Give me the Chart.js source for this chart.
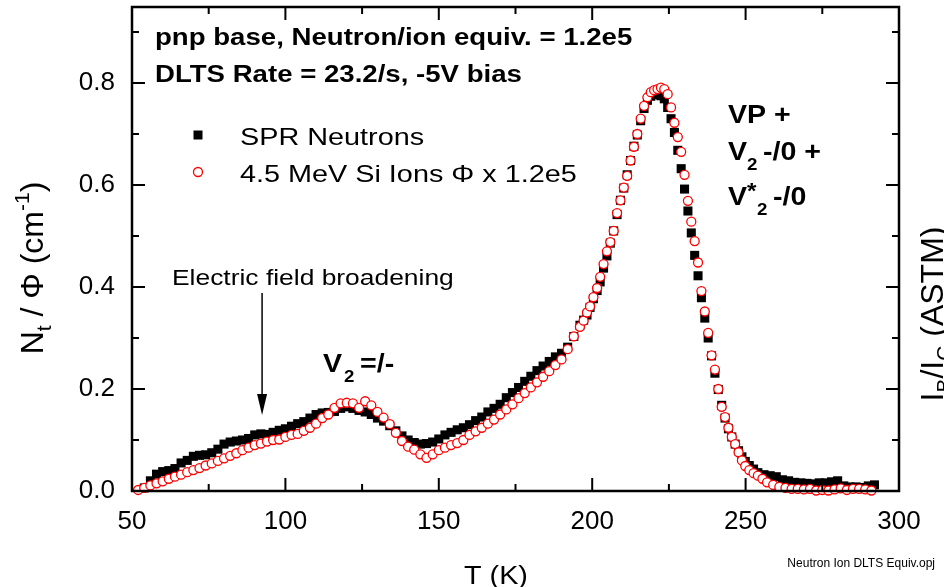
<!DOCTYPE html>
<html>
<head>
<meta charset="utf-8">
<style>
  html, body { margin: 0; padding: 0; background: #fff; }
  canvas { display: block; }
</style>
<script src="https://cdn.jsdelivr.net/npm/chart.js@4.4.1/dist/chart.umd.min.js"></script>
</head>
<body>
<canvas id="dltsChart" width="944" height="587"></canvas>
<script>
// axis ticks
const tempTicks = [50, 100, 150, 200, 250, 300];
const tempMinor = [75, 125, 175, 225, 275];
const ntTicks = [0, 0.2, 0.4, 0.6, 0.8];
const ntMinor = [0.1, 0.3, 0.5, 0.7, 0.9];

// SPR neutrons (black squares)
const neutronT = [54, 56, 58, 60, 62, 64, 66, 68, 70, 72, 74, 76, 78, 80, 82, 84, 86, 88, 90, 92, 94, 96, 98,
  100, 102, 104, 106, 108, 110, 112, 114, 116, 118, 120, 122, 124, 126, 128, 130, 132, 134, 136, 138, 140,
  142, 144, 146, 148, 150, 152, 154, 156, 158, 160, 162, 164, 166, 168, 170, 172, 174, 176, 178, 180, 182,
  184, 186, 188, 190, 192, 194, 196,
  197.2, 198.3, 199.3, 200.4, 201.6, 202.6, 203.7, 204.8, 205.9, 207, 208.1, 209.2, 210.3, 211.4, 212.5,
  213.6, 214.7, 215.8, 216.9, 218, 219.1, 220.2, 221.3, 222.4, 223.5, 224.6, 225.7, 226.8, 227.9, 229,
  230.1, 231.2, 232.3, 233.4, 234.5, 235.6, 236.7, 237.8, 238.9, 240, 241.1, 242.2, 243.3, 244.4, 245.5,
  246.6, 247.7, 248.8, 249.9, 251.2, 252.6, 254,
  256, 258, 260, 262, 264, 266, 268, 270, 272, 274, 276, 278, 280, 282, 284, 286, 288, 290, 292];
const neutronN = [0.006, 0.020, 0.033, 0.038, 0.040, 0.044, 0.055, 0.060, 0.068, 0.070, 0.071, 0.075, 0.082,
  0.092, 0.096, 0.098, 0.100, 0.103, 0.110, 0.112, 0.111, 0.115, 0.119,
  0.122, 0.127, 0.132, 0.136, 0.143, 0.150, 0.153, 0.154, 0.156, 0.162, 0.165, 0.162, 0.158, 0.155, 0.150,
  0.143, 0.137, 0.128, 0.118, 0.108, 0.100,
  0.095, 0.092, 0.093, 0.096, 0.102, 0.110, 0.115, 0.120, 0.124, 0.130, 0.138, 0.145, 0.155, 0.162, 0.170,
  0.183, 0.193, 0.203, 0.215, 0.225, 0.236,
  0.245, 0.254, 0.263, 0.270, 0.282, 0.303, 0.325,
  0.335, 0.345, 0.360, 0.377, 0.393, 0.410, 0.437, 0.461, 0.486, 0.510, 0.542, 0.570, 0.594, 0.620, 0.648,
  0.676, 0.698, 0.726, 0.750, 0.766, 0.774, 0.778, 0.777, 0.775, 0.769, 0.752, 0.730, 0.703, 0.668, 0.632,
  0.592, 0.549, 0.506, 0.462, 0.422, 0.379, 0.339, 0.300, 0.265, 0.231, 0.199, 0.168, 0.143, 0.122, 0.106,
  0.092, 0.079, 0.067, 0.058, 0.050, 0.043, 0.036,
  0.032, 0.030, 0.028, 0.022, 0.020, 0.017, 0.016, 0.015, 0.014, 0.016, 0.016, 0.018, 0.020, 0.010, 0.008,
  0.008, 0.007, 0.010, 0.012];

// 4.5 MeV Si ions scaled by 1.2e5 (red open circles)
const ionT = [52, 54, 56, 58, 60, 62, 64, 66, 68, 70, 72, 74, 76, 78, 80, 82, 84, 86, 88, 90, 92, 94, 96, 98,
  100, 102, 104, 106, 108, 110, 112, 114, 116, 118, 120, 122, 124, 126, 128, 130, 132, 134, 136, 138, 140,
  142, 144, 146, 148, 150, 152, 154, 156, 158, 160, 162, 164, 166, 168, 170, 172, 174, 176, 178, 180, 182,
  184, 186, 188, 190, 192, 194, 196,
  197.2, 198.3, 199.3, 200.4, 201.6, 202.6, 203.7, 204.8, 205.9, 207, 208.1, 209.2, 210.3, 211.4, 212.5,
  213.6, 214.7, 215.8, 216.9, 218, 219.1, 220.2, 221.3, 222.4, 223.5, 224.6, 225.7, 226.8, 227.9, 229,
  230.1, 231.2, 232.3, 233.4, 234.5, 235.6, 236.7, 237.8, 238.9, 240, 241.1, 242.2, 243.3, 244.4, 245.5,
  246.6, 247.7, 248.8, 249.9, 251.2, 252.6, 254, 255.5, 257,
  259, 261, 263, 265, 267, 269, 271, 273, 275, 277, 279, 281, 283, 285, 287, 289, 291];
const ionN = [0.002, 0.006, 0.011, 0.015, 0.019, 0.024, 0.028, 0.032, 0.037, 0.041, 0.045, 0.050, 0.054,
  0.059, 0.064, 0.069, 0.074, 0.080, 0.085, 0.090, 0.093, 0.097, 0.100, 0.101,
  0.106, 0.110, 0.112, 0.118, 0.124, 0.132, 0.143, 0.150, 0.163, 0.172, 0.173, 0.172, 0.163, 0.176, 0.168,
  0.155, 0.144, 0.131, 0.114, 0.098, 0.087,
  0.081, 0.072, 0.065, 0.072, 0.080, 0.085, 0.090, 0.094, 0.100, 0.110, 0.117, 0.124, 0.132, 0.140, 0.150,
  0.160, 0.170, 0.182, 0.192, 0.203, 0.213,
  0.224, 0.235, 0.247, 0.258, 0.278, 0.303, 0.322,
  0.334, 0.350, 0.362, 0.380, 0.398, 0.420, 0.445, 0.470, 0.488, 0.510, 0.545, 0.570, 0.595, 0.618, 0.648,
  0.675, 0.700, 0.730, 0.755, 0.772, 0.782, 0.786, 0.788, 0.791, 0.788, 0.778, 0.752, 0.722, 0.694, 0.665,
  0.620, 0.569, 0.528, 0.490, 0.448, 0.392, 0.352, 0.310, 0.266, 0.238, 0.200, 0.165, 0.145, 0.124, 0.106,
  0.092, 0.076, 0.060, 0.049, 0.041, 0.035, 0.030, 0.024, 0.017,
  0.012, 0.008, 0.006, 0.004, 0.004, 0.003, 0.004, 0.001, 0.002, 0.001, 0.003, 0.005, 0.002, 0.004, 0.004,
  0.003, 0.001];

const FONT = '"Liberation Sans", Arial, Helvetica, sans-serif';

function toPoints(xs, ys) {
  return xs.map((t, i) => ({ x: t, y: ys[i] }));
}

// text with a slight horizontal stretch, returns drawn width
function put(ctx, str, x, y, size, weight, sx) {
  sx = sx || 1.15;
  ctx.save();
  ctx.translate(x, y);
  ctx.scale(sx, 1);
  ctx.font = `${weight} ${size}px ${FONT}`;
  ctx.fillText(str, 0, 0);
  const w = ctx.measureText(str).width * sx;
  ctx.restore();
  return w;
}

// rotated axis title made of pieces [text, size, baseline shift]
function rotatedTitle(ctx, parts, x, y) {
  ctx.save();
  ctx.translate(x, y);
  ctx.rotate(-Math.PI / 2);
  let w = 0;
  parts.forEach(p => { ctx.font = `${p[1]}px ${FONT}`; w += ctx.measureText(p[0]).width; });
  let cx = -w / 2;
  parts.forEach(p => {
    ctx.font = `${p[1]}px ${FONT}`;
    ctx.fillText(p[0], cx, p[2]);
    cx += ctx.measureText(p[0]).width;
  });
  ctx.restore();
}

// frame and inward ticks on all four sides
const framePlugin = {
  id: "frame",
  afterDatasetsDraw(chart) {
    const { ctx, chartArea: a, scales } = chart;
    const sx = scales.x, sy = scales.y;
    ctx.save();
    ctx.strokeStyle = "#000";
    ctx.lineWidth = 2;
    ctx.beginPath();
    const tickX = (vals, len) => {
      vals.forEach(v => {
        const px = sx.getPixelForValue(v);
        ctx.moveTo(px, a.bottom); ctx.lineTo(px, a.bottom - len);
        ctx.moveTo(px, a.top); ctx.lineTo(px, a.top + len);
      });
    };
    const tickY = (vals, len) => {
      vals.forEach(v => {
        const py = sy.getPixelForValue(v);
        ctx.moveTo(a.left, py); ctx.lineTo(a.left + len, py);
        ctx.moveTo(a.right, py); ctx.lineTo(a.right - len, py);
      });
    };
    tickX(tempTicks, 13);
    tickX(tempMinor, 7);
    tickY(ntTicks, 13);
    tickY(ntMinor, 7);
    ctx.stroke();
    ctx.lineWidth = 2.5;
    ctx.strokeRect(a.left, a.top, a.right - a.left, a.bottom - a.top);
    ctx.restore();
  },
};

// labels, legend, annotations
const textPlugin = {
  id: "texts",
  afterDraw(chart) {
    const { ctx, scales } = chart;
    ctx.save();
    ctx.fillStyle = "#000";
    ctx.textBaseline = "alphabetic";

    put(ctx, "pnp base, Neutron/ion equiv. = 1.2e5", 155, 45, 23, "bold", 1.2);
    put(ctx, "DLTS Rate = 23.2/s, -5V bias", 155, 82, 23, "bold", 1.2);

    // legend
    ctx.fillRect(193.5, 130.5, 9, 9);
    ctx.beginPath();
    ctx.arc(198, 172, 4.5, 0, Math.PI * 2);
    ctx.fillStyle = "#fff";
    ctx.fill();
    ctx.strokeStyle = "#ff0000";
    ctx.lineWidth = 1.3;
    ctx.stroke();
    ctx.fillStyle = "#000";
    put(ctx, "SPR Neutrons", 240, 145, 24, "normal", 1.2);
    put(ctx, "4.5 MeV Si Ions \u03A6 x 1.2e5", 240, 182, 24, "normal", 1.2);

    // electric field arrow
    put(ctx, "Electric field broadening", 172, 285, 22, "normal", 1.2);
    const ax = scales.x.getPixelForValue(92.4);
    const tip = scales.y.getPixelForValue(0.149);
    ctx.strokeStyle = "#000";
    ctx.lineWidth = 1.5;
    ctx.beginPath();
    ctx.moveTo(ax, 293);
    ctx.lineTo(ax, tip - 18);
    ctx.stroke();
    ctx.beginPath();
    ctx.moveTo(ax - 5, tip - 21);
    ctx.lineTo(ax + 5, tip - 21);
    ctx.lineTo(ax, tip);
    ctx.closePath();
    ctx.fill();

    // peak labels
    put(ctx, "V", 323, 372, 26, "bold", 1.1);
    put(ctx, "2", 344, 382, 17, "bold", 1.1);
    put(ctx, "=/-", 360, 372, 26, "bold", 1.1);

    put(ctx, "VP +", 728, 123, 26, "bold", 1.1);
    put(ctx, "V", 728, 160, 26, "bold", 1.1);
    put(ctx, "2", 747, 170, 17, "bold", 1.1);
    put(ctx, "-/0 +", 763, 160, 26, "bold", 1.1);
    put(ctx, "V", 728, 205, 26, "bold", 1.1);
    put(ctx, "*", 747, 198, 22, "bold", 1.1);
    put(ctx, "2", 757, 215, 17, "bold", 1.1);
    put(ctx, "-/0", 773, 205, 26, "bold", 1.1);

    // x title and file name
    ctx.textAlign = "center";
    put(ctx, "T (K)", 496, 584, 25, "normal", 1.15);
    ctx.textAlign = "right";
    put(ctx, "Neutron Ion DLTS Equiv.opj", 935, 567, 12, "normal", 1.0);
    ctx.textAlign = "left";

    // axis titles
    rotatedTitle(ctx, [["N", 32, 0], ["t", 21, 8], [" / \u03A6 (cm", 32, 0], ["-1", 21, -14], [")", 32, 0]], 43, 268);
    rotatedTitle(ctx, [["I", 32, 0], ["B", 21, 8], ["/I", 32, 0], ["C", 21, 8], [" (ASTM)", 32, 0]], 943, 314);

    ctx.restore();
  },
};

const ctx = document.getElementById("dltsChart").getContext("2d");
const dltsChart = new Chart(ctx, {
  type: "scatter",
  data: {
    datasets: [
      {
        label: "4.5 MeV Si Ions \u03A6 x 1.2e5",
        data: toPoints(ionT, ionN),
        pointStyle: "circle",
        pointRadius: 4.5,
        pointBorderWidth: 1.3,
        pointBorderColor: "#ff0000",
        pointBackgroundColor: "#ffffff",
        order: 0,
      },
      {
        label: "SPR Neutrons",
        data: toPoints(neutronT, neutronN),
        pointStyle: "rect",
        pointRadius: 6.4,
        pointBorderWidth: 0,
        pointBorderColor: "#000",
        pointBackgroundColor: "#000",
        order: 1,
      },
    ],
  },
  options: {
    responsive: false,
    animation: false,
    devicePixelRatio: 1,
    clip: false,
    layout: { padding: { left: 0, right: 45, top: 7, bottom: 0 } },
    plugins: { legend: { display: false }, tooltip: { enabled: false } },
    scales: {
      x: {
        type: "linear",
        min: 50,
        max: 300,
        afterBuildTicks: s => { s.ticks = tempTicks.map(v => ({ value: v })); },
        afterFit: s => { s.height = 96; s.paddingLeft = 0; s.paddingRight = 0; },
        grid: { display: false, drawTicks: false },
        border: { display: false },
        ticks: {
          color: "#000",
          font: { family: FONT, size: 26 },
          padding: 15,
          maxRotation: 0,
          autoSkip: false,
        },
      },
      y: {
        type: "linear",
        min: 0,
        max: 0.949,
        afterBuildTicks: s => { s.ticks = ntTicks.map(v => ({ value: v })); },
        afterFit: s => { s.width = 132; s.paddingTop = 0; s.paddingBottom = 0; },
        grid: { display: false, drawTicks: false },
        border: { display: false },
        ticks: {
          color: "#000",
          font: { family: FONT, size: 26 },
          padding: 17,
          callback: v => v.toFixed(1),
        },
      },
    },
  },
  plugins: [framePlugin, textPlugin],
});
</script>
</body>
</html>
